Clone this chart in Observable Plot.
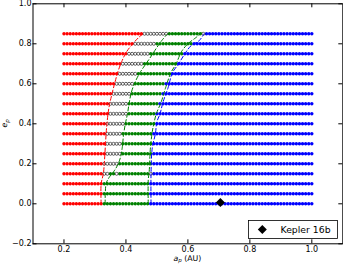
<!DOCTYPE html>
<html><head><meta charset="utf-8">
<script src="https://cdn.jsdelivr.net/npm/d3@7"></script>
<script src="https://cdn.jsdelivr.net/npm/@observablehq/plot@0.6"></script>
<style>body{margin:0;background:#fff} svg{display:block}</style>
</head><body><div id="chart"></div>
<script>
// ---- data ----
const eRows     = [0.00, 0.05, 0.10, 0.15, 0.20, 0.25, 0.30, 0.35, 0.40, 0.45, 0.50, 0.55, 0.60, 0.65, 0.70, 0.75, 0.80, 0.85];
const redEnd    = [0.32, 0.32, 0.32, 0.32, 0.32, 0.33, 0.33, 0.33, 0.33, 0.34, 0.34, 0.35, 0.36, 0.37, 0.38, 0.40, 0.42, 0.45];
const blueStart = [0.48, 0.48, 0.48, 0.49, 0.49, 0.49, 0.49, 0.49, 0.50, 0.50, 0.51, 0.52, 0.53, 0.55, 0.57, 0.59, 0.62, 0.66];
const openPts = [
  [], [], [],
  [0.33, 0.34, 0.37, 0.48],
  [0.33, 0.34, 0.35, 0.36, 0.37],
  [0.34, 0.35, 0.36, 0.37, 0.38],
  [0.34, 0.35, 0.36, 0.37, 0.38],
  [0.34, 0.35, 0.36, 0.37, 0.38],
  [0.34, 0.35, 0.36, 0.37, 0.38, 0.39],
  [0.35, 0.36, 0.37, 0.38, 0.39, 0.40],
  [0.35, 0.36, 0.37, 0.38, 0.39, 0.40],
  [0.36, 0.37, 0.38, 0.39, 0.40, 0.41],
  [0.37, 0.38, 0.39, 0.40, 0.41, 0.42],
  [0.38, 0.39, 0.40, 0.41, 0.42, 0.43],
  [0.39, 0.40, 0.41, 0.42, 0.43, 0.44, 0.45],
  [0.41, 0.42, 0.43, 0.44, 0.45, 0.46, 0.47],
  [0.43, 0.44, 0.45, 0.46, 0.47, 0.48, 0.49],
  [0.46, 0.47, 0.48, 0.49, 0.50, 0.51, 0.52, 0.53, 0.65]
];
const aFirst = 0.20, aLast = 1.00, aStep = 0.01;

// dashed boundary curves [a, e]
const curveRed = [[0.320,0.00],[0.320,0.10],[0.327,0.15],[0.330,0.20],[0.334,0.30],[0.338,0.39],[0.345,0.48],[0.355,0.55],[0.365,0.61],[0.374,0.66],[0.386,0.71],[0.402,0.76],[0.422,0.80],[0.440,0.83],[0.458,0.855]];
const curveGreenIn = [[0.333,0.00],[0.336,0.10],[0.345,0.13],[0.360,0.16],[0.372,0.19],[0.382,0.23],[0.388,0.28],[0.392,0.34],[0.398,0.40],[0.405,0.45],[0.410,0.50],[0.418,0.56],[0.430,0.61],[0.445,0.655],[0.460,0.69],[0.478,0.73],[0.497,0.775],[0.515,0.815],[0.534,0.85]];
const curveGreenOut = [[0.472,0.00],[0.472,0.12],[0.475,0.16],[0.479,0.28],[0.485,0.36],[0.490,0.40],[0.498,0.45],[0.514,0.51],[0.528,0.58],[0.545,0.655],[0.562,0.70],[0.579,0.76],[0.600,0.80],[0.625,0.83],[0.645,0.855]];
const curveBlue = [[0.481,0.00],[0.481,0.15],[0.485,0.28],[0.495,0.35],[0.500,0.41],[0.510,0.45],[0.520,0.51],[0.536,0.58],[0.550,0.655],[0.570,0.70],[0.590,0.75],[0.610,0.79],[0.636,0.815],[0.652,0.85]];

const planetName = ["Kepler 16b"];
const planetA = [0.7048];
const planetE = [0.0069];

const xTicks = [0.2, 0.4, 0.6, 0.8, 1.0];
const yTicks = [-0.2, 0.0, 0.2, 0.4, 0.6, 0.8, 1.0];

// ---- build tables ----
const pts = [];
eRows.forEach((e, i) => {
  const n = Math.round((aLast - aFirst) / aStep);
  for (let k = 0; k <= n; k++) {
    const a = Math.round((aFirst + k * aStep) * 100) / 100;
    let c;
    if (a <= redEnd[i] + 1e-9) c = "red";
    else if (openPts[i].some(v => Math.abs(v - a) < 1e-6)) c = "open";
    else if (a >= blueStart[i] - 1e-9) c = "blue";
    else c = "green";
    pts.push({a, e, c});
  }
});
const toXY = arr => arr.map(([a, e]) => ({a, e}));
const planets = planetName.map((n, i) => ({name: n, a: planetA[i], e: planetE[i]}));

const W = 343, H = 266;
const mL = 32.5, mR = 0.7, mT = 3.3, mB = 22.7;
const pw = W - mL - mR, ph = H - mT - mB;
const TL = 4;

const diamond = {draw(ctx, size) { const r = Math.sqrt(size / 2); ctx.moveTo(0, -r); ctx.lineTo(r, 0); ctx.lineTo(0, r); ctx.lineTo(-r, 0); ctx.closePath(); }};
const fmt = d3.format(".1f");
const dash = "4,2.5";

const chart = Plot.plot({
  width: W, height: H,
  marginLeft: mL, marginRight: mR, marginTop: mT, marginBottom: mB,
  x: {domain: [0.1, 1.1]},
  y: {domain: [-0.2, 1.0]},
  style: {fontFamily: "DejaVu Sans", fontSize: "8px", background: "white", color: "black"},
  marks: [
    Plot.dot(pts.filter(d => d.c === "red"), {x: "a", y: "e", r: 1.7, fill: "#ff0000"}),
    Plot.dot(pts.filter(d => d.c === "green"), {x: "a", y: "e", r: 1.7, fill: "#008000"}),
    Plot.dot(pts.filter(d => d.c === "blue"), {x: "a", y: "e", r: 1.7, fill: "#0000ff"}),
    Plot.dot(pts.filter(d => d.c === "open"), {x: "a", y: "e", r: 1.5, fill: "white", stroke: "black", strokeWidth: 0.6}),
    Plot.line(toXY(curveRed), {x: "a", y: "e", stroke: "#ff0000", strokeWidth: 1, strokeDasharray: dash, curve: "catmull-rom"}),
    Plot.line(toXY(curveGreenIn), {x: "a", y: "e", stroke: "#008000", strokeWidth: 1, strokeDasharray: dash, curve: "catmull-rom"}),
    Plot.line(toXY(curveGreenOut), {x: "a", y: "e", stroke: "#008000", strokeWidth: 1, strokeDasharray: dash, curve: "catmull-rom"}),
    Plot.line(toXY(curveBlue), {x: "a", y: "e", stroke: "#0000ff", strokeWidth: 1, strokeDasharray: dash, curve: "catmull-rom"}),
    Plot.dot(planets, {x: "a", y: "e", symbol: diamond, r: 3.6, fill: "black"}),
    Plot.tickX(xTicks, {x: d => d, insetTop: ph - TL, stroke: "black"}),
    Plot.tickX(xTicks, {x: d => d, insetBottom: ph - TL, stroke: "black"}),
    Plot.tickY(yTicks, {y: d => d, insetRight: pw - TL, stroke: "black"}),
    Plot.tickY(yTicks, {y: d => d, insetLeft: pw - TL, stroke: "black"}),
    Plot.axisX(xTicks, {tickSize: 0, tickPadding: 2.5, tickFormat: fmt, label: null}),
    Plot.axisY(yTicks, {tickSize: 0, tickPadding: 1.5, tickFormat: fmt, label: null}),
    Plot.frame({stroke: "black", strokeWidth: 1})
  ]
});
document.getElementById("chart").appendChild(chart);

// axis titles and legend
const svg = d3.select(chart);
const xl = svg.append("text").attr("x", mL + pw / 2).attr("y", 260.5).attr("text-anchor", "middle")
  .attr("font-family", "DejaVu Sans").attr("font-size", 7.8).attr("fill", "black");
xl.append("tspan").attr("font-style", "italic").text("a");
xl.append("tspan").attr("font-style", "italic").attr("font-size", 5.5).attr("dy", 1.8).text("p");
xl.append("tspan").attr("dy", -1.8).text(" (AU)");

const yl = svg.append("text").attr("transform", `translate(7,${mT + ph / 2}) rotate(-90)`).attr("text-anchor", "middle")
  .attr("font-family", "DejaVu Sans").attr("font-size", 7.8).attr("fill", "black");
yl.append("tspan").attr("font-style", "italic").text("e");
yl.append("tspan").attr("font-style", "italic").attr("font-size", 5.5).attr("dy", 1.8).text("p");

const lg = svg.append("g");
lg.append("rect").attr("x", 248.5).attr("y", 220.5).attr("width", 89).attr("height", 18)
  .attr("fill", "white").attr("stroke", "black").attr("stroke-width", 0.8);
lg.append("path").attr("transform", "translate(262.3,229.5)").attr("d", "M0,-4.5L4.5,0L0,4.5L-4.5,0Z").attr("fill", "black");
lg.append("text").attr("x", 280.5).attr("y", 232.8).attr("text-anchor", "start").attr("font-family", "DejaVu Sans").attr("font-size", 9.3)
  .attr("fill", "black").text(planets[0].name);
</script></body></html>
